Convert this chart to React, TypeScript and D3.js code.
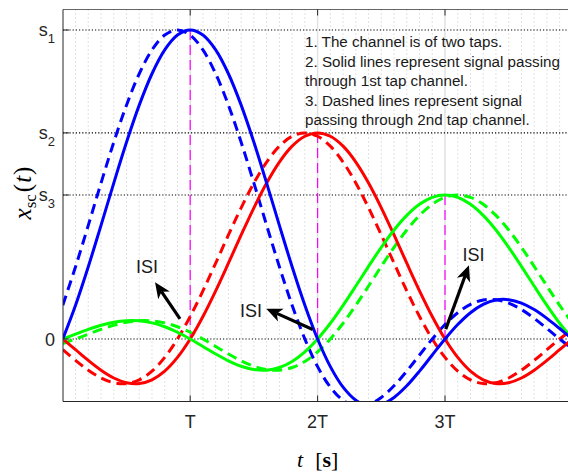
import React from 'react';
import * as d3 from 'd3';

// sample instants (in units of T)
const tSamples = [0, 0.1, 0.2, 0.3, 0.4, 0.5, 0.6, 0.7, 0.8, 0.9, 1, 1.1, 1.2, 1.3, 1.4, 1.5, 1.6, 1.7, 1.8, 1.9, 2, 2.1, 2.2, 2.3, 2.4, 2.5, 2.6, 2.7, 2.8, 2.9, 3, 3.1, 3.2, 3.3, 3.4, 3.5, 3.6, 3.7, 3.8, 3.9, 4];

// series values (s1 = 1)
const blueSolid = [0, 0.1093, 0.2339, 0.3679, 0.5046, 0.6366, 0.7568, 0.8584, 0.9355, 0.9836, 1, 0.9836, 0.9355, 0.8584, 0.7568, 0.6366, 0.5046, 0.3679, 0.2339, 0.1093, 0, -0.0894, -0.1559, -0.1981, -0.2162, -0.2122, -0.1892, -0.1515, -0.1039, -0.0518, 0, 0.0468, 0.0851, 0.112, 0.1261, 0.1273, 0.1164, 0.0954, 0.0668, 0.0339, 0];
const blueDashed = [0.1093, 0.2339, 0.3679, 0.5046, 0.6366, 0.7568, 0.8584, 0.9355, 0.9836, 1, 0.9836, 0.9355, 0.8584, 0.7568, 0.6366, 0.5046, 0.3679, 0.2339, 0.1093, 0, -0.0894, -0.1559, -0.1981, -0.2162, -0.2122, -0.1892, -0.1515, -0.1039, -0.0518, 0, 0.0468, 0.0851, 0.112, 0.1261, 0.1273, 0.1164, 0.0954, 0.0668, 0.0339, 0, -0.0317];
const redSolid = [0, -0.0345, -0.0693, -0.101, -0.1262, -0.1415, -0.1442, -0.1321, -0.104, -0.0596, 0, 0.0729, 0.156, 0.2454, 0.3366, 0.4246, 0.5048, 0.5726, 0.624, 0.6561, 0.667, 0.6561, 0.624, 0.5726, 0.5048, 0.4246, 0.3366, 0.2454, 0.156, 0.0729, 0, -0.0596, -0.104, -0.1321, -0.1442, -0.1415, -0.1262, -0.101, -0.0693, -0.0345, 0];
const redDashed = [-0.0345, -0.0693, -0.101, -0.1262, -0.1415, -0.1442, -0.1321, -0.104, -0.0596, 0, 0.0729, 0.156, 0.2454, 0.3366, 0.4246, 0.5048, 0.5726, 0.624, 0.6561, 0.667, 0.6561, 0.624, 0.5726, 0.5048, 0.4246, 0.3366, 0.2454, 0.156, 0.0729, 0, -0.0596, -0.104, -0.1321, -0.1442, -0.1415, -0.1262, -0.101, -0.0693, -0.0345, 0, 0.0312];
const greenSolid = [0, 0.0158, 0.0311, 0.0445, 0.0543, 0.0593, 0.0588, 0.0522, 0.0396, 0.0218, 0, -0.0241, -0.0484, -0.0706, -0.0882, -0.0989, -0.1008, -0.0923, -0.0727, -0.0417, 0, 0.0509, 0.109, 0.1714, 0.2351, 0.2967, 0.3527, 0.4, 0.4359, 0.4584, 0.466, 0.4584, 0.4359, 0.4, 0.3527, 0.2967, 0.2351, 0.1714, 0.109, 0.0509, 0];
const greenDashed = [-0.0148, 0, 0.0158, 0.0311, 0.0445, 0.0543, 0.0593, 0.0588, 0.0522, 0.0396, 0.0218, 0, -0.0241, -0.0484, -0.0706, -0.0882, -0.0989, -0.1008, -0.0923, -0.0727, -0.0417, 0, 0.0509, 0.109, 0.1714, 0.2351, 0.2967, 0.3527, 0.4, 0.4359, 0.4584, 0.466, 0.4584, 0.4359, 0.4, 0.3527, 0.2967, 0.2351, 0.1714, 0.109, 0.0509];

// ticks
const xTickValues = [1, 2, 3];
const xTickLabels = ['T', '2T', '3T'];
const yTickValues = [0, 0.466, 0.667, 1];
const yTickBase = ['0', 's', 's', 's'];
const yTickSubs = ['', '3', '2', '1'];

// peaks marked with magenta dashed lines
const peakTimes = [1, 2, 3];
const peakValues = [1, 0.667, 0.466];

// ISI annotations (data units): tail -> tip, label
const isiTail = [[0.92, 0.065], [1.962, 0.031], [3.006, 0.032]];
const isiTip = [[0.724, 0.184], [1.597, 0.098], [3.188, 0.239]];
const isiText = [[0.661, 0.214], [1.477, 0.071], [3.224, 0.252]];

const noteLines = [
  '1. The channel is of two taps.',
  '2. Solid lines represent signal passing',
  'through 1st tap channel.',
  '3. Dashed lines represent signal',
  'passing through 2nd tap channel.',
];

const W = 568, H = 473;
const plotLeft = 63, plotTop = 9.5, plotBottom = 401.5, plotRight = 572.4;

export default function App() {
  const x = d3.scaleLinear().domain([0, 4]).range([62.8, 572.4]);
  const y = d3.scaleLinear().domain([0, 1]).range([339, 30]);
  const line = d3.line<number>()
    .x((_, i) => x(tSamples[i]))
    .y((d) => y(d))
    .curve(d3.curveCatmullRom.alpha(0.5));

  const minor = d3.range(1, 40).filter((i) => i % 10 !== 0).map((i) => i / 10);
  const axisColor = '#262626';
  const sans = "'Liberation Sans', Arial, sans-serif";
  const serif = "'Liberation Serif', 'DejaVu Serif', serif";

  const arrow = (t1: number[], t2: number[], k: number) => {
    const x1 = x(t1[0]), y1 = y(t1[1]), x2 = x(t2[0]), y2 = y(t2[1]);
    const dx = x2 - x1, dy = y2 - y1;
    const len = Math.hypot(dx, dy);
    const ux = dx / len, uy = dy / len;
    const px = -uy, py = ux;
    const L = 16, Wd = 7, N = 11.5;
    const bl = [x2 - ux * L + px * Wd, y2 - uy * L + py * Wd];
    const br = [x2 - ux * L - px * Wd, y2 - uy * L - py * Wd];
    const nt = [x2 - ux * N, y2 - uy * N];
    return (
      <g key={k}>
        <line x1={x1} y1={y1} x2={nt[0]} y2={nt[1]} stroke="#000" strokeWidth={3.2} />
        <polygon points={`${x2},${y2} ${bl[0]},${bl[1]} ${nt[0]},${nt[1]} ${br[0]},${br[1]}`} fill="#000" />
      </g>
    );
  };

  const series = [
    { d: redDashed, c: '#ff0000', dash: '10,6' },
    { d: greenDashed, c: '#00ff00', dash: '10,6' },
    { d: blueDashed, c: '#0000ff', dash: '10,6' },
    { d: redSolid, c: '#ff0000', dash: null },
    { d: greenSolid, c: '#00ff00', dash: null },
    { d: blueSolid, c: '#0000ff', dash: null },
  ];

  return (
    <div style={{ position: 'fixed', left: 0, top: 0 }}>
      <svg width={W} height={H} style={{ display: 'block', background: '#fff' }}>
        <defs>
          <clipPath id="plotClip">
            <rect x={plotLeft} y={plotTop} width={plotRight - plotLeft} height={plotBottom - plotTop} />
          </clipPath>
        </defs>
        <rect x={0} y={0} width={W} height={H} fill="#fff" />
        {/* minor vertical grid */}
        {minor.map((t) => (
          <line key={'m' + t} x1={x(t)} x2={x(t)} y1={plotTop} y2={plotBottom}
            stroke="#c4c4c4" strokeWidth={1} strokeDasharray="1,3" />
        ))}
        {/* major vertical grid */}
        {xTickValues.map((t) => (
          <line key={'g' + t} x1={x(t)} x2={x(t)} y1={plotTop} y2={plotBottom}
            stroke="#e2e2e2" strokeWidth={1.5} />
        ))}
        {/* magenta dashed markers */}
        {peakTimes.map((t, i) => (
          <line key={'p' + t} x1={x(t)} x2={x(t)} y1={y(peakValues[i])} y2={y(0)}
            stroke="#ff00ff" strokeWidth={1.2} strokeDasharray="10,5" />
        ))}
        {/* horizontal dotted level lines */}
        {yTickValues.map((v) => (
          <line key={'h' + v} x1={plotLeft} x2={plotRight} y1={y(v)} y2={y(v)}
            stroke="#000" strokeWidth={1.2} strokeDasharray="1.2,2" />
        ))}
        {/* curves */}
        <g clipPath="url(#plotClip)">
          {series.map((s, i) => (
            <path key={'s' + i} d={line(s.d) || ''} fill="none" stroke={s.c} strokeWidth={3}
              strokeDasharray={s.dash || undefined} />
          ))}
        </g>
        {/* axes box */}
        <line x1={plotLeft} x2={plotRight} y1={plotTop} y2={plotTop} stroke="#666" strokeWidth={1} />
        <line x1={plotLeft} x2={plotRight} y1={plotBottom} y2={plotBottom} stroke={axisColor} strokeWidth={1} />
        <line x1={plotLeft} x2={plotLeft} y1={plotTop} y2={plotBottom} stroke={axisColor} strokeWidth={1} />
        {/* x ticks */}
        {xTickValues.map((t, i) => (
          <g key={'xt' + t}>
            <line x1={x(t)} x2={x(t)} y1={plotBottom} y2={plotBottom - 6} stroke={axisColor} strokeWidth={1} />
            <line x1={x(t)} x2={x(t)} y1={plotTop} y2={plotTop + 6} stroke={axisColor} strokeWidth={1} />
            <text x={x(t)} y={427.5} textAnchor="middle" fontFamily={sans} fontSize={18} fill={axisColor}>
              {xTickLabels[i]}
            </text>
          </g>
        ))}
        {/* y ticks */}
        {yTickValues.map((v, i) => (
          <g key={'yt' + v}>
            <line x1={plotLeft} x2={plotLeft + 6} y1={y(v)} y2={y(v)} stroke={axisColor} strokeWidth={1} />
            {yTickSubs[i] ? (
              <text x={55} y={y(v) + 6} textAnchor="end" fontFamily={sans} fontSize={18} fill={axisColor}>
                {yTickBase[i]}
                <tspan fontSize={13} dy={7}>{yTickSubs[i]}</tspan>
              </text>
            ) : (
              <text x={55} y={y(v) + 7} textAnchor="end" fontFamily={sans} fontSize={18} fill={axisColor}>
                {yTickBase[i]}
              </text>
            )}
          </g>
        ))}
        {/* y label */}
        <text transform={`translate(31,193) rotate(-90)`} textAnchor="middle" fontFamily={serif} fontSize={25}
          fill="#000">
          <tspan fontStyle="italic">x</tspan>
          <tspan fontSize={17} dy={5}>sc</tspan>
          <tspan dy={-5} dx={2}>(</tspan>
          <tspan fontStyle="italic" dx={1}>t</tspan>
          <tspan dx={1}>)</tspan>
        </text>
        {/* x label */}
        <text x={297} y={467} fontFamily={serif} fontSize={22} fill="#000">
          <tspan fontStyle="italic">t</tspan>
          <tspan dx={12}>[</tspan>
          <tspan fontWeight="bold">s</tspan>
          <tspan>]</tspan>
        </text>
        {/* notes */}
        {noteLines.map((s, i) => (
          <text key={'n' + i} x={305} y={47.3 + i * 19.45} fontFamily={sans} fontSize={15.2} fill="#1a1a1a">{s}</text>
        ))}
        {/* ISI arrows */}
        {isiTail.map((t, i) => arrow(t, isiTip[i], i))}
        {isiText.map((p, i) => (
          <text key={'isi' + i} x={x(p[0])} y={y(p[1])} textAnchor="middle" fontFamily={sans} fontSize={18} fill="#1a1a1a">ISI</text>
        ))}
      </svg>
    </div>
  );
}
